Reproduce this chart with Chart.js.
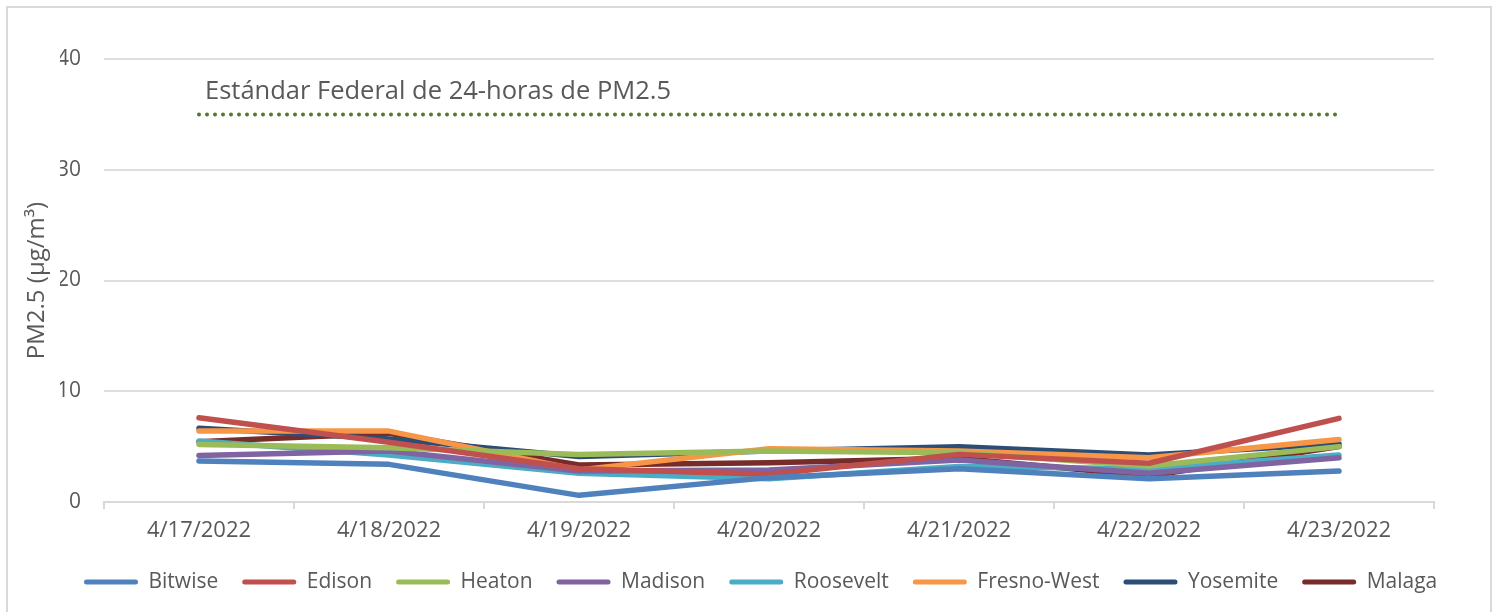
<!DOCTYPE html>
<html>
<head>
<meta charset="utf-8">
<script src="https://cdn.jsdelivr.net/npm/chart.js@4.4.1/dist/chart.umd.min.js"></script>
<style>
  html, body { margin: 0; padding: 0; background: #ffffff; overflow: hidden; }
  #wrap { position: relative; width: 1494px; height: 612px; }
  #frame { position: absolute; left: 6px; top: 6px; width: 1486px; height: 700px; border: 2px solid #d9d9d9; box-sizing: border-box; pointer-events: none; }
  canvas { position: absolute; left: 0; top: 0; }
</style>
</head>
<body>
<div id="wrap">
  <canvas id="c" width="1494" height="612"></canvas>
  <div id="frame"></div>
</div>
<script>
const categories = ['4/17/2022', '4/18/2022', '4/19/2022', '4/20/2022', '4/21/2022', '4/22/2022', '4/23/2022'];
const bitwise    = [3.7, 3.4, 0.6, 2.2, 3.0, 2.1, 2.8];
const edison     = [7.6, 5.4, 3.0, 2.5, 4.3, 3.5, 7.55];
const heaton     = [5.2, 4.9, 4.3, 4.6, 4.45, 3.25, 5.0];
const madison    = [4.2, 4.6, 2.8, 2.9, 3.8, 2.6, 4.0];
const roosevelt  = [5.5, 4.25, 2.6, 2.1, 3.2, 3.0, 4.25];
const fresnoWest = [6.4, 6.4, 2.9, 4.8, 4.6, 4.0, 5.65];
const yosemite   = [6.65, 5.7, 4.1, 4.6, 5.0, 4.25, 5.25];
const malaga     = [5.45, 6.2, 3.35, 3.55, 3.95, 2.35, 5.0];
const federalStandard = [35, 35, 35, 35, 35, 35, 35];
const standardLabel = 'Estándar Federal de 24-horas de PM2.5';
const standardLabelValue = 37;
const yTicks = [0, 10, 20, 30, 40];
const yTitle = 'PM2.5 (µg/m³)';

const seriesNames  = ['Bitwise', 'Edison', 'Heaton', 'Madison', 'Roosevelt', 'Fresno-West', 'Yosemite', 'Malaga'];
const seriesValues = [bitwise, edison, heaton, madison, roosevelt, fresnoWest, yosemite, malaga];
const seriesColors = ['#4F81BD', '#C0504D', '#9BBB59', '#8064A2', '#4BACC6', '#F79646', '#2C4D75', '#772C2A'];

const datasets = seriesNames.map((name, i) => ({
  label: name,
  data: seriesValues[i],
  borderColor: seriesColors[i],
  backgroundColor: seriesColors[i],
  borderWidth: 5.5,
  borderCapStyle: 'round',
  borderJoinStyle: 'round',
  pointRadius: 0,
  pointHoverRadius: 0,
  tension: 0,
  fill: false
}));
datasets.unshift({
  label: 'standard',
  data: federalStandard,
  borderColor: '#58762A',
  borderWidth: 4,
  borderDash: [0, 8],
  borderCapStyle: 'round',
  pointRadius: 0,
  fill: false
});

const textColor = '#595959';

const standardText = {
  id: 'standardText',
  afterDatasetsDraw(chart) {
    const x = chart.scales.x.getPixelForValue(0) + 6;
    const y = chart.scales.y.getPixelForValue(standardLabelValue);
    const ctx = chart.ctx;
    ctx.save();
    ctx.font = '25.5px "Open Sans"';
    ctx.fillStyle = textColor;
    ctx.textBaseline = 'middle';
    ctx.textAlign = 'left';
    ctx.fillText(standardLabel, x, y);
    ctx.restore();
  }
};

new Chart(document.getElementById('c'), {
  type: 'line',
  data: { labels: categories, datasets },
  plugins: [standardText],
  options: {
    responsive: false,
    animation: false,
    devicePixelRatio: 1,
    layout: { padding: { top: 59, right: 0, bottom: 9.5, left: 60 } },
    plugins: {
      tooltip: { enabled: false },
      legend: {
        position: 'bottom',
        align: 'start',
        labels: {
          filter: (item) => item.text !== 'standard',
          color: textColor,
          font: { family: '"Open Sans"', size: 21 },
          boxWidth: 54,
          boxHeight: 5,
          useBorderRadius: true,
          borderRadius: 2.5,
          padding: 24,
          generateLabels: (chart) => chart.data.datasets.map((ds, i) => ({
            text: ds.label,
            fillStyle: ds.borderColor,
            strokeStyle: ds.borderColor,
            lineWidth: 0,
            borderRadius: 2.5,
            fontColor: textColor,
            datasetIndex: i,
            hidden: false
          }))
        }
      }
    },
    scales: {
      x: {
        offset: true,
        grid: { display: true, drawOnChartArea: false, drawTicks: true, tickLength: 7, color: '#d9d9d9', lineWidth: 2, offset: true },
        border: { display: true, color: '#d9d9d9', width: 2 },
        ticks: { color: textColor, font: { family: '"Open Sans"', size: 22 }, padding: 9, maxRotation: 0 },
        afterFit: (s) => { s.height = 45.5; }
      },
      y: {
        min: 0, max: 40,
        afterBuildTicks: (s) => { s.ticks = yTicks.map(v => ({ value: v })); },
        grid: { color: '#dedede', lineWidth: 2, drawTicks: false },
        border: { display: false },
        ticks: { color: textColor, font: { family: '"Open Sans"', size: 21 }, padding: 23 },
        title: { display: true, text: yTitle, color: textColor, font: { family: '"Open Sans"', size: 24 }, padding: { top: -37.4, bottom: 0 } },
        afterFit: (s) => { s.width = 44; }
      },
      yRightSpace: {
        type: 'linear',
        position: 'right',
        display: true,
        grid: { display: false, drawTicks: false },
        border: { display: false },
        ticks: { display: false },
        afterFit: (s) => { s.width = 60; }
      }
    }
  }
});
</script>
</body>
</html>
